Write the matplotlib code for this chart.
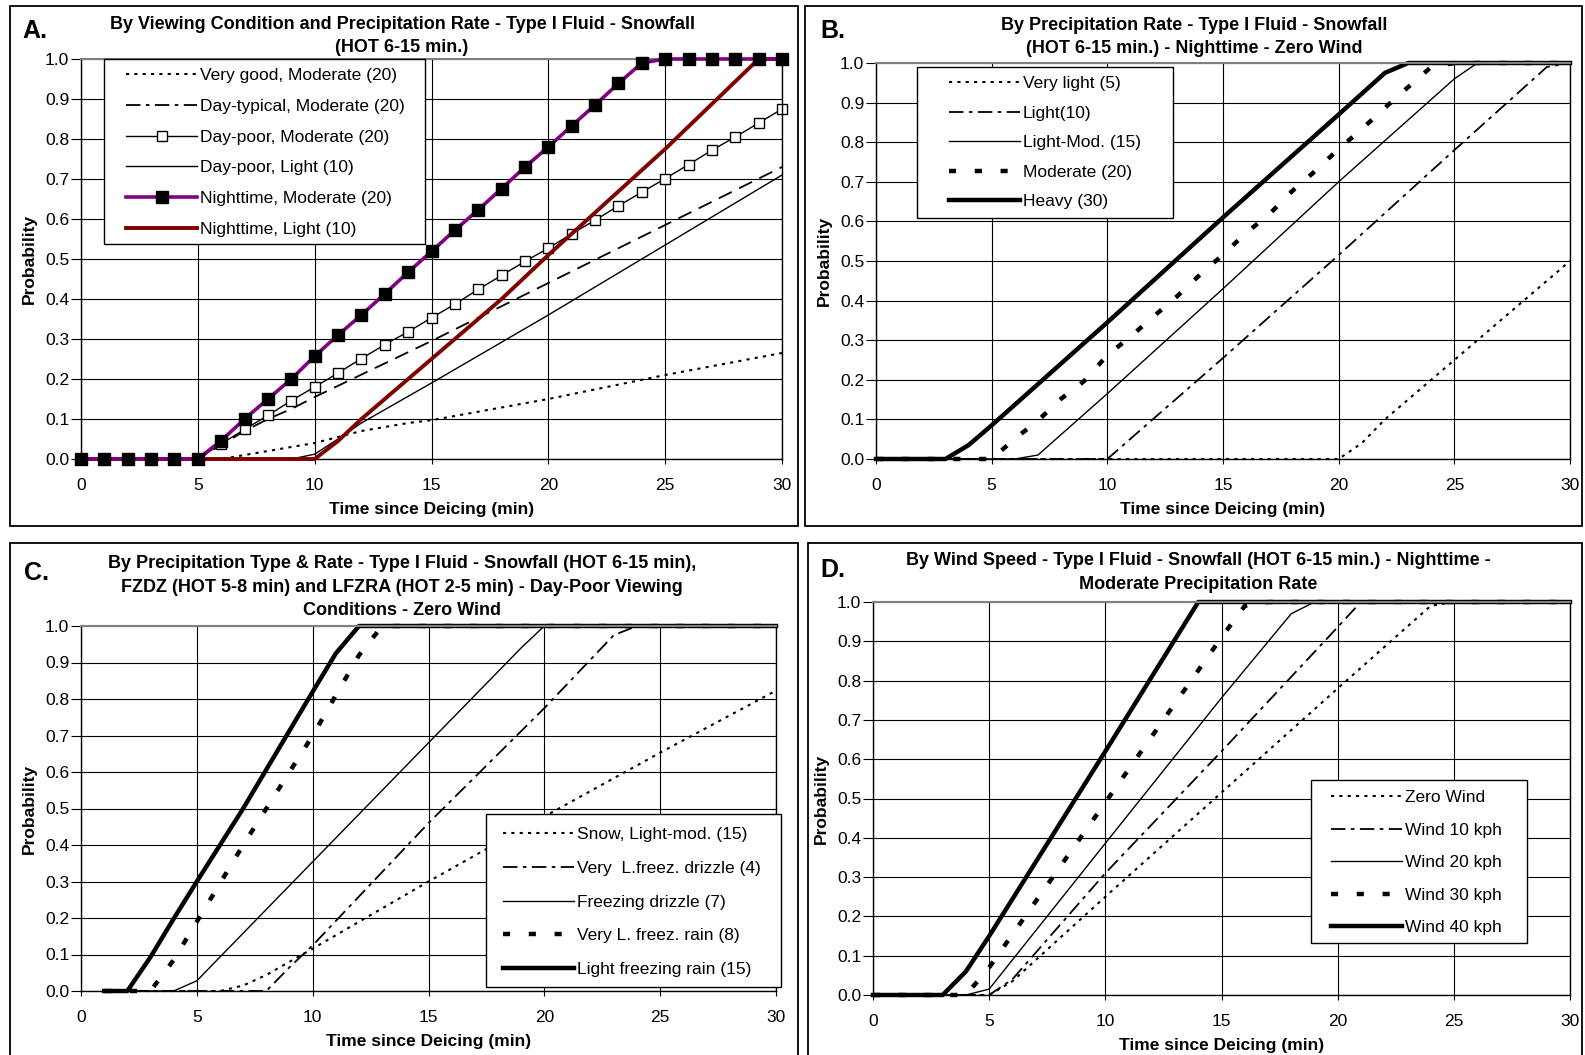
import matplotlib
matplotlib.use("Agg")
import matplotlib.pyplot as plt
from matplotlib.patches import Rectangle
from matplotlib.lines import Line2D

plt.rcParams['font.family'] = ['Liberation Sans', 'DejaVu Sans']

W, H = 1585, 1055

# ---------------- data ----------------
# A. by viewing condition and precipitation rate
a_x = list(range(31))
a_night_mod = [0, 0, 0, 0, 0, 0, 0.046, 0.10, 0.15, 0.20, 0.257, 0.31, 0.36, 0.413, 0.467, 0.519,
               0.572, 0.623, 0.676, 0.73, 0.78, 0.833, 0.885, 0.939, 0.99, 1, 1, 1, 1, 1, 1]
a_daypoor_mod = [0, 0, 0, 0, 0, 0, 0.038, 0.074, 0.109, 0.146, 0.18, 0.215, 0.251, 0.286, 0.318, 0.353,
                 0.387, 0.424, 0.459, 0.494, 0.527, 0.563, 0.597, 0.633, 0.667, 0.701, 0.736, 0.772,
                 0.805, 0.84, 0.875]
a_verygood_x = [0, 6, 7, 8, 9, 10, 11, 12, 13, 14, 15, 20, 25, 30]
a_verygood_y = [0, 0, 0.01, 0.02, 0.03, 0.04, 0.055, 0.07, 0.08, 0.09, 0.097, 0.15, 0.21, 0.265]
a_daytyp_x = [0, 5, 6, 7, 8, 9, 10, 15, 20, 25, 30]
a_daytyp_y = [0, 0, 0.035, 0.07, 0.10, 0.125, 0.155, 0.295, 0.44, 0.585, 0.73]
a_daypoor_light_x = [0, 9, 10, 11, 12, 15, 20, 25, 30]
a_daypoor_light_y = [0, 0, 0.012, 0.05, 0.09, 0.19, 0.36, 0.535, 0.71]
a_night_light_x = [0, 10, 11, 12, 15, 18, 20, 25, 29, 30]
a_night_light_y = [0, 0, 0.045, 0.10, 0.25, 0.40, 0.51, 0.775, 1.0, 1.0]

# B. by precipitation rate
b_vlight_x = [0, 20, 21, 22, 24, 25, 26, 28, 30]
b_vlight_y = [0, 0, 0.04, 0.10, 0.20, 0.25, 0.30, 0.40, 0.50]
b_light_x = [0, 10, 15, 20, 25, 29, 30]
b_light_y = [0, 0, 0.255, 0.515, 0.78, 0.99, 1]
b_lightmod_x = [0, 6, 7, 10, 15, 20, 25, 26, 30]
b_lightmod_y = [0, 0, 0.01, 0.165, 0.43, 0.70, 0.96, 1, 1]
b_mod_x = [0, 5, 6, 7, 8, 9, 10, 11, 12, 13, 14, 15, 16, 17, 18, 19, 20, 21, 22, 23, 24, 25, 30]
b_mod_y = [0, 0, 0.051, 0.097, 0.152, 0.197, 0.262, 0.309, 0.36, 0.41, 0.465, 0.516, 0.571, 0.618,
           0.677, 0.728, 0.783, 0.833, 0.887, 0.939, 0.99, 1, 1]
b_heavy_x = [0, 3, 4, 5, 10, 15, 20, 22, 23, 30]
b_heavy_y = [0, 0, 0.035, 0.085, 0.345, 0.61, 0.87, 0.975, 1, 1]

# C. by precipitation type & rate
c_snow_x = [1, 6, 7, 8, 9, 10, 15, 20, 25, 30]
c_snow_y = [0, 0, 0.015, 0.044, 0.08, 0.116, 0.30, 0.478, 0.653, 0.823]
c_vlfzdz_x = [1, 8, 9, 10, 15, 20, 23, 24, 30]
c_vlfzdz_y = [0, 0, 0.065, 0.125, 0.46, 0.775, 0.975, 1, 1]
c_fzdz_x = [1, 4, 5, 10, 15, 19, 20, 30]
c_fzdz_y = [0, 0, 0.028, 0.354, 0.68, 0.94, 1, 1]
c_vlfzra_x = [1, 3, 4, 5, 7, 8, 10, 12, 13, 30]
c_vlfzra_y = [0, 0, 0.085, 0.19, 0.40, 0.50, 0.70, 0.92, 1, 1]
c_lfzra_x = [1, 2, 3, 4, 5, 7, 10, 11, 12, 30]
c_lfzra_y = [0, 0, 0.093, 0.198, 0.30, 0.50, 0.82, 0.925, 1, 1]

# D. by wind speed
d_zero_x = [0, 5, 6, 10, 15, 20, 24, 25, 30]
d_zero_y = [0, 0, 0.035, 0.25, 0.515, 0.78, 0.99, 1, 1]
d_w10_x = [0, 5, 6, 10, 15, 20, 21, 30]
d_w10_y = [0, 0, 0.04, 0.31, 0.62, 0.936, 1, 1]
d_w20_x = [0, 4, 5, 10, 15, 18, 19, 30]
d_w20_y = [0, 0, 0.015, 0.386, 0.756, 0.97, 1, 1]
d_w30_x = [0, 4, 5, 10, 15, 16, 17, 30]
d_w30_y = [0, 0, 0.07, 0.49, 0.91, 0.99, 1, 1]
d_w40_x = [0, 3, 4, 5, 10, 14, 30]
d_w40_y = [0, 0, 0.06, 0.15, 0.62, 1, 1]

x_ticks = [0, 5, 10, 15, 20, 25, 30]
y_ticks = [0.0, 0.1, 0.2, 0.3, 0.4, 0.5, 0.6, 0.7, 0.8, 0.9, 1.0]

# line styles
DOT = dict(color='black', lw=1.5, linestyle=(0, (1.5, 2.5)))
DASHDOT = dict(color='black', lw=1.3, linestyle=(0, (8, 3, 2, 3)))
LONGDASH = dict(color='black', lw=1.3, linestyle=(0, (8, 4.5)))
THIN = dict(color='black', lw=1.0, linestyle='-')
THICKDASH = dict(color='black', lw=3.2, linestyle=(0, (1.6, 4.2)))
THICK = dict(color='black', lw=3.2, linestyle='-')


def px_rect(l, t, r, b):
    return (l / W, 1 - b / H), (r - l) / W, (b - t) / H


def fig_ax(left, top, right, bottom):
    # pixel box -> figure axes
    return fig.add_axes([left / W, 1 - bottom / H, (right - left) / W, (bottom - top) / H])


def style(ax):
    ax.set_xlim(0, 30)
    ax.set_ylim(0, 1.0)
    ax.set_xticks(x_ticks)
    ax.set_yticks(y_ticks)
    ax.set_yticklabels([f"{v:.1f}" for v in y_ticks])
    ax.grid(True, color='black', lw=0.8)
    ax.set_axisbelow(True)
    ax.tick_params(axis='y', direction='out', length=7, pad=1.5, labelsize=12.5)
    ax.tick_params(axis='x', direction='out', length=3.5, pad=10, labelsize=12.5)
    for s in ['left', 'bottom', 'right']:
        ax.spines[s].set_color('black')
        ax.spines[s].set_linewidth(1.0)
    ax.spines['top'].set_color('#808080')
    ax.spines['top'].set_linewidth(1.5)
    ax.set_xlabel('Time since Deicing (min)', fontsize=12.5, fontweight='bold', labelpad=7)
    ax.set_ylabel('Probability', fontsize=12.5, fontweight='bold', labelpad=6)


def legend(ax, box, first, spacing, handles=None):
    # white framed box, then a frameless legend whose first key starts at `first` (px)
    xy, w, h = px_rect(*box)
    ax.add_patch(Rectangle(xy, w, h, transform=fig.transFigure, facecolor='white', edgecolor='black',
                           lw=1.0, zorder=4.9, clip_on=False))
    kw = dict(loc='upper left', bbox_to_anchor=(first[0] / W, 1 - first[1] / H),
              bbox_transform=fig.transFigure, borderaxespad=0, borderpad=0, fontsize=12.5,
              handlelength=4.1, handletextpad=0.15, labelspacing=spacing, frameon=False)
    lg = ax.legend(handles=handles, **kw) if handles else ax.legend(**kw)
    lg.set_zorder(5)
    return lg


fig = plt.figure(figsize=(W / 100, H / 100), dpi=100)

# panel frames
for box in [(10, 6, 798, 526), (805, 6, 1582, 526), (10, 543, 798, 1058), (808, 543, 1582, 1058)]:
    xy, w, h = px_rect(*box)
    fig.patches.append(Rectangle(xy, w, h, transform=fig.transFigure, fill=False, edgecolor='black', lw=1.3))

# ---------------- A ----------------
ax = fig_ax(81, 59, 782, 459)
h1, = ax.plot(a_verygood_x, a_verygood_y, label='Very good, Moderate (20)', clip_on=False, **DOT)
ax.plot(a_daytyp_x, a_daytyp_y, clip_on=False, **LONGDASH)
h2 = Line2D([], [], label='Day-typical, Moderate (20)', **DASHDOT)  # legend key drawn dash-dot
h3, = ax.plot(a_x, a_daypoor_mod, color='black', lw=1.0, marker='s', ms=7, mfc='white', mec='black',
              mew=1.0, label='Day-poor, Moderate (20)', clip_on=False)
h4, = ax.plot(a_daypoor_light_x, a_daypoor_light_y, label='Day-poor, Light (10)', clip_on=False, **THIN)
h5, = ax.plot(a_x, a_night_mod, color='#800080', lw=2.6, marker='s', ms=9, mfc='black', mec='black',
              label='Nighttime, Moderate (20)', clip_on=False, zorder=4)
h6, = ax.plot(a_night_light_x, a_night_light_y, color='#800000', lw=2.8, label='Nighttime, Light (10)',
              clip_on=False, zorder=3)
style(ax)
legend(ax, (104, 59, 425, 244), (126, 68), 0.9, handles=[h1, h2, h3, h4, h5, h6])

# ---------------- B ----------------
ax = fig_ax(876, 63, 1570, 459)
ax.plot(b_vlight_x, b_vlight_y, label='Very light (5)', clip_on=False, **DOT)
ax.plot(b_light_x, b_light_y, label='Light(10)', clip_on=False, **DASHDOT)
ax.plot(b_lightmod_x, b_lightmod_y, label='Light-Mod. (15)', clip_on=False, **THIN)
ax.plot(b_mod_x, b_mod_y, label='Moderate (20)', clip_on=False, **THICKDASH)
ax.plot(b_heavy_x, b_heavy_y, label='Heavy (30)', clip_on=False, **THICK)
style(ax)
legend(ax, (917, 67, 1173, 218), (949, 76), 0.83)

# ---------------- C ----------------
ax = fig_ax(81, 626, 776, 991)
ax.plot(c_snow_x, c_snow_y, label='Snow, Light-mod. (15)', clip_on=False, **DOT)
ax.plot(c_vlfzdz_x, c_vlfzdz_y, label='Very  L.freez. drizzle (4)', clip_on=False, **DASHDOT)
ax.plot(c_fzdz_x, c_fzdz_y, label='Freezing drizzle (7)', clip_on=False, **THIN)
ax.plot(c_vlfzra_x, c_vlfzra_y, label='Very L. freez. rain (8)', clip_on=False, **THICKDASH)
ax.plot(c_lfzra_x, c_lfzra_y, label='Light freezing rain (15)', clip_on=False, **THICK)
style(ax)
legend(ax, (486, 814, 781, 987), (503, 827), 1.07)

# ---------------- D ----------------
ax = fig_ax(873, 602, 1570, 995)
ax.plot(d_zero_x, d_zero_y, label='Zero Wind', clip_on=False, **DOT)
ax.plot(d_w10_x, d_w10_y, label='Wind 10 kph', clip_on=False, **DASHDOT)
ax.plot(d_w20_x, d_w20_y, label='Wind 20 kph', clip_on=False, **THIN)
ax.plot(d_w30_x, d_w30_y, label='Wind 30 kph', clip_on=False, **THICKDASH)
ax.plot(d_w40_x, d_w40_y, label='Wind 40 kph', clip_on=False, **THICK)
style(ax)
legend(ax, (1311, 780, 1527, 943), (1331, 790), 1.0)

# ---------------- titles and panel letters ----------------
titles = [
    (402, [(29, 'By Viewing Condition and Precipitation Rate - Type I Fluid - Snowfall'),
           (52, '(HOT 6-15 min.)')]),
    (1194, [(30, 'By Precipitation Rate - Type I Fluid - Snowfall'),
            (53, '(HOT 6-15 min.) - Nighttime - Zero Wind')]),
    (402, [(568, 'By Precipitation Type & Rate - Type I Fluid - Snowfall (HOT 6-15 min),'),
           (592, 'FZDZ (HOT 5-8 min) and LFZRA (HOT 2-5 min) - Day-Poor Viewing'),
           (615, 'Conditions - Zero Wind')]),
    (1198, [(565, 'By Wind Speed - Type I Fluid - Snowfall (HOT 6-15 min.) - Nighttime -'),
            (589, 'Moderate Precipitation Rate')]),
]
for cx, lines in titles:
    for y, s in lines:
        fig.text(cx / W, 1 - y / H, s, ha='center', va='baseline', fontsize=13, fontweight='bold')

for (x, y, s) in [(22, 38, 'A.'), (820, 38, 'B.'), (24, 580, 'C.'), (820, 577, 'D.')]:
    fig.text(x / W, 1 - y / H, s, ha='left', va='baseline', fontsize=18, fontweight='bold')

fig.savefig('out.png', dpi=100)
